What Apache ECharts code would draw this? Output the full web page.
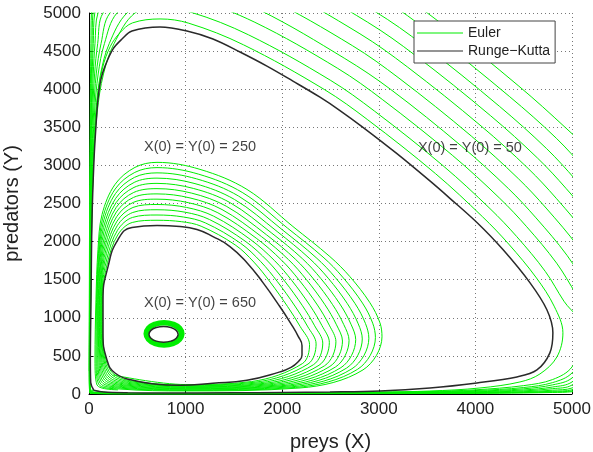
<!DOCTYPE html>
<html>
<head>
<meta charset="utf-8">
<script src="https://cdn.jsdelivr.net/npm/echarts@6/dist/echarts.min.js"></script>
<style>
  html, body { margin: 0; padding: 0; background: #fff; }
  #plot { width: 593px; height: 452px; }
</style>
</head>
<body>
<div id="plot"></div>
<script>
// ---- axes ----
const xTicks = [0, 1000, 2000, 3000, 4000, 5000];
const yTicks = [0, 500, 1000, 1500, 2000, 2500, 3000, 3500, 4000, 4500, 5000];

// ---- Runge-Kutta orbits ----
const rk650 = [[923,783],[903,835],[848,872],[772,886],[697,872],[641,835],[621,783],[641,731],[697,694],[772,680],[848,694],[903,731],[923,783]];

const rk250 = [[445,184],[652,135],[942,115],[1283,140],[1635,180],[1977,290],[2080,342],[2163,421],[2205,513],[2205,632],[2163,763],[2091,921],[1977,1145],[1801,1461],[1635,1724],[1459,1935],[1283,2066],[1118,2158],[942,2198],[704,2211],[445,2185],[300,2027],[197,1671],[145,1237],[145,803],[186,447],[269,276],[445,184]];

const rk50 = [[50,50],[150,25],[400,15],[750,13],[1500,16],[2000,20],[2494,26],[3012,39],[3529,79],[4016,145],[4430,224],[4637,316],[4771,540],[4802,803],[4740,1105],[4564,1461],[4285,1895],[4016,2250],[3736,2568],[3529,2796],[3188,3154],[2836,3500],[2598,3720],[2391,3895],[2111,4106],[1842,4303],[1563,4488],[1283,4659],[1014,4764],[735,4816],[445,4764],[342,4659],[248,4527],[166,4303],[124,4132],[93,3869],[72,3514],[52,3079],[31,2290],[21,1237],[14,447],[18,150],[50,50]];

// ---- Euler spirals, one loop per row ----
const euler650 = [
  [[943,790],[920,852],[859,898],[775,915],[691,898],[630,852],[607,790],[630,728],[691,682],[775,665],[859,682],[920,728],[943,790]],
  [[961,790],[936,864],[869,918],[776,938],[684,918],[616,864],[591,790],[616,716],[684,662],[776,642],[869,662],[936,716],[961,790]],
  [[977,790],[950,873],[877,933],[777,955],[677,933],[604,873],[577,790],[604,707],[677,647],[777,625],[877,647],[950,707],[977,790]]
];

const euler250 = [
  [[250,250]],
  [[1000,124],[1681,163],[2210,400],[2283,649],[2186,886],[2055,1149],[1876,1468],[1707,1731],[1513,1957],[1161,2202],[959,2261],[704,2280],[448,2251],[297,2087],[192,1728],[141,1292],[139,839],[176,447],[254,263],[433,173]],
  [[1000,117],[1727,156],[2267,393],[2351,658],[2261,891],[2132,1154],[1951,1474],[1778,1737],[1568,1979],[1204,2246],[977,2323],[704,2349],[450,2317],[295,2148],[187,1785],[136,1347],[133,875],[165,447],[238,250],[421,163]],
  [[1000,109],[1772,148],[2324,385],[2420,668],[2336,895],[2210,1158],[2026,1481],[1850,1744],[1622,2001],[1247,2290],[994,2386],[704,2418],[453,2382],[292,2208],[181,1842],[132,1401],[127,912],[155,447],[223,236],[409,152]],
  [[1000,101],[1818,140],[2381,377],[2488,677],[2411,899],[2287,1163],[2101,1487],[1921,1750],[1676,2023],[1290,2334],[1011,2448],[704,2487],[455,2448],[290,2268],[176,1899],[128,1456],[121,948],[145,447],[207,223],[397,141]],
  [[1000,94],[1864,133],[2438,370],[2556,686],[2487,904],[2365,1167],[2176,1494],[1993,1757],[1731,2045],[1334,2378],[1028,2511],[704,2557],[458,2514],[287,2328],[171,1957],[124,1511],[115,984],[134,447],[192,210],[385,130]],
  [[1000,86],[1910,125],[2494,362],[2624,695],[2562,908],[2443,1171],[2251,1501],[2065,1764],[1785,2066],[1377,2421],[1046,2573],[704,2626],[461,2580],[284,2389],[166,2014],[119,1566],[108,1020],[124,447],[176,197],[372,119]],
  [[1000,78],[1955,117],[2551,354],[2692,704],[2637,912],[2520,1176],[2326,1507],[2136,1770],[1839,2088],[1420,2465],[1063,2636],[704,2695],[463,2645],[282,2449],[161,2071],[115,1621],[102,1056],[114,447],[161,184],[360,109]],
  [[1000,70],[2001,109],[2608,346],[2761,714],[2712,916],[2598,1180],[2401,1514],[2208,1777],[1893,2110],[1463,2509],[1080,2698],[704,2764],[466,2711],[279,2509],[155,2128],[111,1675],[96,1093],[104,447],[145,170],[348,98]],
  [[1000,63],[2047,102],[2665,339],[2829,723],[2787,921],[2675,1185],[2476,1520],[2279,1783],[1948,2132],[1506,2553],[1097,2761],[704,2833],[468,2777],[277,2569],[150,2185],[106,1730],[90,1129],[93,447],[130,157],[336,87]],
  [[1000,55],[2093,94],[2722,331],[2897,732],[2862,925],[2753,1189],[2551,1527],[2351,1790],[2002,2154],[1549,2597],[1115,2823],[704,2902],[471,2843],[274,2630],[145,2242],[102,1785],[84,1165],[83,447],[114,144],[324,77]],
  [[1000,47],[2138,86],[2779,323],[2965,741],[2937,929],[2831,1193],[2626,1534],[2423,1797],[2056,2176],[1592,2641],[1132,2886],[704,2971],[474,2908],[271,2690],[140,2299],[98,1840],[78,1201],[73,447],[99,131],[312,66]],
  [[1000,40],[2184,79],[2836,316],[3033,750],[3012,934],[2908,1198],[2701,1540],[2494,1803],[2111,2198],[1635,2685],[1149,2948],[704,3040],[476,2974],[269,2750],[135,2356],[93,1895],[72,1237],[62,447],[83,118],[300,55]]
];

const euler50 = [
  [[50,50],[30,50],[300,10],[1000,8],[2000,14],[3012,26],[3529,39],[4047,79],[4461,158],[4668,263],[4844,487],[4906,803],[4815,1153],[4632,1523],[4345,1967],[4073,2327],[3586,2893],[2886,3598],[2435,3997],[1600,4582],[1033,4866],[735,4922],[450,4870],[320,4740],[220,4560],[140,4280],[90,3900],[60,3400],[40,2800],[25,2000],[15,1000],[8,300]],
  [[25,40],[300,9],[1000,7],[2000,12],[3000,22],[3500,32],[4000,55],[4500,110],[4800,190],[5000,355],[5150,800],[4917,1217],[4724,1608],[4427,2067],[4151,2433],[3665,2996],[2954,3714],[2497,4119],[1652,4713],[1058,5009],[735,5066],[476,5000],[260,4600],[150,4200],[85,3700],[45,3000],[25,2000],[14,1000],[8,300]],
  [[20,35],[300,8],[1000,6],[2000,10],[3000,18],[3500,27],[4000,45],[4500,85],[4800,150],[5000,276],[5300,800],[5048,1300],[4841,1717],[4531,2195],[4252,2568],[3765,3129],[3041,3861],[2575,4273],[1717,4878],[1090,5185],[735,5251],[393,5000],[210,4600],[120,4200],[70,3700],[38,3000],[21,2000],[12,1000],[7,300]],
  [[18,30],[300,7],[1000,5],[2000,9],[3000,15],[3500,22],[4000,36],[4500,68],[4800,120],[5000,210],[5450,800],[5169,1378],[4950,1817],[4627,2312],[4344,2693],[3857,3252],[3122,3998],[2648,4403],[1777,5032],[1119,5357],[735,5421],[290,5000],[160,4600],[95,4200],[58,3700],[32,3000],[18,2000],[10,1000],[6,300]],
  [[15,25],[300,6],[1000,5],[2000,8],[3000,13],[3500,18],[4000,29],[4500,53],[4800,92],[5000,158],[5600,800],[5299,1461],[5067,1927],[4732,2440],[4444,2827],[3958,3385],[3209,4145],[2726,4572],[1842,5198],[1151,5538],[735,5606],[217,5000],[125,4600],[75,4200],[48,3700],[27,3000],[15,2000],[9,1000],[5,300]],
  [[13,22],[300,5],[1000,4],[2000,7],[3000,11],[3500,15],[4000,23],[4500,41],[4800,70],[5000,118],[5750,800],[5430,1544],[5184,2036],[4837,2568],[4545,2961],[4058,3518],[3295,4293],[2805,4727],[1908,5364],[1183,5718],[735,5790],[145,5000],[90,4600],[58,4200],[38,3700],[22,3000],[12,2000],[7,1000],[4,300]],
  [[11,20],[300,4],[1000,4],[2000,6],[3000,9],[3500,12],[4000,18],[4500,30],[4800,50],[5000,79],[5900,800],[5560,1627],[5302,2144],[4941,2694],[4644,3095],[4158,3651],[3382,4440],[2882,4881],[1973,5530],[1215,5898],[735,5974],[93,5000],[62,4600],[44,4200],[30,3700],[18,3000],[10,2000],[6,1000],[4,300]],
  [[10,18],[300,4],[1000,3],[2000,5],[3000,8],[3500,10],[4000,14],[4500,23],[4800,36],[5000,55],[6050,800],[5411,2245],[5037,2812],[4737,3220],[4251,3773],[3463,4577],[2955,5024],[2034,5684],[735,6145],[60,5000],[44,4600],[33,4200],[24,3700],[15,3000],[8,2000],[5,1000],[3,300]],
  [[9,15],[300,3],[1000,3],[2000,4],[3000,6],[3500,8],[4000,11],[4500,18],[4800,27],[5000,40],[6200,800],[5527,2356],[5142,2939],[4838,3356],[4351,3906],[3550,4724],[3034,5188],[2099,5850],[735,6330],[41,5000],[32,4600],[25,4200],[19,3700],[12,3000],[7,2000],[4,1000],[3,300]],
  [[8,12],[300,2],[1000,2],[2000,3],[3000,5],[3500,6],[4000,9],[4500,14],[4800,20],[5000,30],[6350,800],[5646,2462],[5246,3106],[4937,3490],[4451,4039],[3637,4872],[3112,5335],[2163,6014],[735,6514],[25,5000],[20,4600],[16,4200],[13,3700],[9,3000],[5,2000],[3,1000],[2,300]]
];

// ---- annotations ----
const noteText = ["X(0) = Y(0) = 250", "X(0) = Y(0) = 50", "X(0) = Y(0) = 650"];
const noteX = [1149, 3943, 1149];
const noteY = [3237, 3224, 1198];

const EULER = "Euler";
const RK = "Runge\u2212Kutta";
const GREEN = "#00ee00";
const DARK = "#2a2a2a";
const FONT = "Liberation Sans, Arial, Helvetica, sans-serif";

const flat = loops => [].concat(...loops);

function lineSeries (name, data, color, width, smooth) {
    return {
        name: name,
        type: "line",
        data: data,
        showSymbol: false,
        symbol: "none",
        smooth: smooth,
        clip: true,
        lineStyle: { color: color, width: width },
        itemStyle: { color: color },
        silent: true
    };
}

const chart = echarts.init(document.getElementById("plot"), null, { renderer: "canvas" });

const option = {
    animation: false,
    backgroundColor: "#fff",
    textStyle: { fontFamily: FONT },
    grid: { left: 89, right: 21, top: 13, bottom: 58, containLabel: false, outerBoundsMode: "none" },

    // LEGEND
    legend: {
        data: [EULER, RK],
        orient: "vertical",
        left: 414,
        top: 21,
        icon: "rect",
        itemWidth: 46,
        itemHeight: 1.2,
        itemGap: 2,
        itemTextGap: 9,
        padding: [4, 5, 4, 3],
        backgroundColor: "#fff",
        borderColor: "#444",
        borderWidth: 1,
        textStyle: { fontSize: 14, color: "#222", lineHeight: 16, fontFamily: FONT }
    },

    // XAXIS
    xAxis: {
        type: "value",
        min: xTicks[0],
        max: xTicks[xTicks.length - 1],
        interval: 1000,
        name: "preys (X)",
        nameLocation: "middle",
        nameGap: 38,
        nameTextStyle: { fontSize: 20, color: "#222", fontFamily: FONT },
        axisLine: { show: true, onZero: false, lineStyle: { color: "#000", width: 1 } },
        axisTick: { show: true, inside: true, length: 4, lineStyle: { color: "#000" } },
        axisLabel: { fontSize: 17, color: "#222", margin: 7, fontFamily: FONT, formatter: v => String(v) },
        splitLine: { show: true, lineStyle: { color: "#777", type: [1, 3], width: 1 } }
    },

    // YAXIS
    yAxis: {
        type: "value",
        min: yTicks[0],
        max: yTicks[yTicks.length - 1],
        interval: 500,
        name: "predators (Y)",
        nameLocation: "middle",
        nameGap: 67,
        nameRotate: 90,
        nameTextStyle: { fontSize: 20, color: "#222", fontFamily: FONT },
        axisLine: { show: true, onZero: false, lineStyle: { color: "#000", width: 1 } },
        axisTick: { show: true, inside: true, length: 4, lineStyle: { color: "#000" } },
        axisLabel: { fontSize: 17, color: "#222", margin: 8, fontFamily: FONT, formatter: v => String(v) },
        splitLine: { show: true, lineStyle: { color: "#777", type: [1, 3], width: 1 } }
    },

    // SERIES
    series: [
        lineSeries(EULER, flat(euler650), GREEN, 2.6, 0.5),
        lineSeries(EULER, flat(euler250), GREEN, 1, 0.35),
        lineSeries(EULER, flat(euler50), GREEN, 1, 0.35),
        lineSeries(RK, rk650, DARK, 1.5, 0.5),
        lineSeries(RK, rk250, DARK, 1.5, 0.5),
        lineSeries(RK, rk50, DARK, 1.5, 0.35),
        {
            type: "scatter",
            silent: true,
            symbolSize: 1,
            itemStyle: { color: "rgba(0,0,0,0)" },
            data: noteText.map((t, i) => [noteX[i], noteY[i], t]),
            label: {
                show: true,
                position: "inside",
                formatter: p => p.data[2],
                fontSize: 14.5,
                color: "#111",
                fontFamily: FONT
            },
            z: 5
        }
    ]
};

chart.setOption(option);
</script>
</body>
</html>
